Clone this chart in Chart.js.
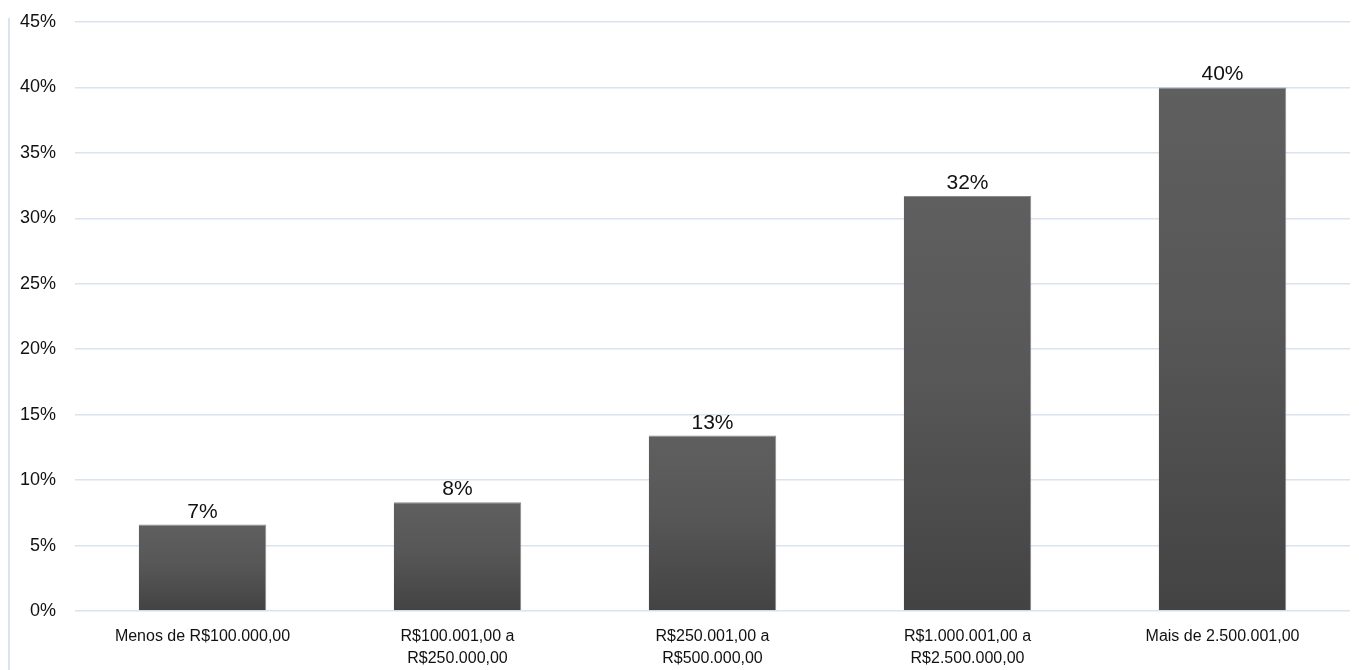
<!DOCTYPE html>
<html>
<head>
<meta charset="utf-8">
<script src="https://cdn.jsdelivr.net/npm/chart.js@4"></script>
<style>
  html, body { margin: 0; padding: 0; background: #ffffff; }
  #wrap { width: 1359px; height: 670px; position: relative; }
</style>
</head>
<body>
<div id="wrap"><canvas id="faixas"></canvas></div>
<script>
const categorias = [
    "Menos de R$100.000,00",
    ["R$100.001,00 a", "R$250.000,00"],
    ["R$250.001,00 a", "R$500.000,00"],
    ["R$1.000.001,00 a", "R$2.500.000,00"],
    "Mais de 2.500.001,00"
];
const percentuais = [6.6, 8.3, 13.4, 31.7, 40.0];
const yTicks = [0, 5, 10, 15, 20, 25, 30, 35, 40, 45];

const gridBlue = "#d9e3f1";
const fontFam = "'Liberation Sans', Arial, sans-serif";

// gradient per bar, lighter on top
function barFill(context) {
    const chart = context.chart;
    const y = chart.scales.y;
    if (!y || context.raw === undefined) return "#505050";
    const top = y.getPixelForValue(context.raw);
    const base = y.getPixelForValue(0);
    if (!isFinite(top) || !isFinite(base) || top === base) return "#505050";
    const g = chart.ctx.createLinearGradient(0, top, 0, base);
    g.addColorStop(0, "#5f5f5f");
    g.addColorStop(0.45, "#575757");
    g.addColorStop(1, "#434343");
    return g;
}

// value labels above bars + left edge line
const extras = {
    id: "extras",
    afterDatasetsDraw(chart) {
        const ctx = chart.ctx;
        ctx.save();
        ctx.strokeStyle = gridBlue;
        ctx.lineWidth = 2;
        ctx.beginPath();
        ctx.moveTo(9, 18);
        ctx.lineTo(9, chart.height);
        ctx.stroke();

        ctx.fillStyle = "#111";
        ctx.font = "21px " + fontFam;
        ctx.textAlign = "center";
        ctx.textBaseline = "alphabetic";
        chart.getDatasetMeta(0).data.forEach((bar, i) => {
            ctx.fillText(Math.round(percentuais[i]) + "%", bar.x, bar.y - 7);
        });
        ctx.restore();
    }
};

const chart = new Chart(document.getElementById("faixas"), {
    type: "bar",
    data: {
        labels: categorias,
        datasets: [{
            data: percentuais,
            backgroundColor: barFill,
            borderColor: "#8a8a8a",
            borderWidth: { top: 1, right: 1, left: 0, bottom: 0 },
            categoryPercentage: 1,
            barPercentage: 0.5,
        }],
    },
    options: {
        responsive: true,
        maintainAspectRatio: false,
        animation: false,
        layout: { padding: { top: 22, right: 9, left: 0, bottom: 0 } },
        plugins: {
            legend: { display: false },
            tooltip: { enabled: false },
        },
        scales: {
            x: {
                grid: { display: false, drawTicks: false },
                border: { display: false },
                ticks: {
                    color: "#111",
                    font: { family: fontFam, size: 16, lineHeight: 1.375 },
                    padding: 15,
                    maxRotation: 0,
                    autoSkip: false,
                },
                afterFit(scale) {
                    scale.height = 59;
                    scale.paddingLeft = 0;
                    scale.paddingRight = 0;
                },
            },
            y: {
                min: 0,
                max: 45,
                afterBuildTicks(scale) { scale.ticks = yTicks.map(v => ({ value: v })); },
                grid: { color: gridBlue, lineWidth: 1.5, drawTicks: false },
                border: { display: false },
                ticks: {
                    color: "#111",
                    font: { family: fontFam, size: 18 },
                    padding: 19,
                    callback: v => v + "%",
                },
                afterFit(scale) {
                    scale.width = 75;
                    scale.paddingTop = 0;
                    scale.paddingBottom = 0;
                },
            },
        },
    },
    plugins: [extras],
});
</script>
</body>
</html>
